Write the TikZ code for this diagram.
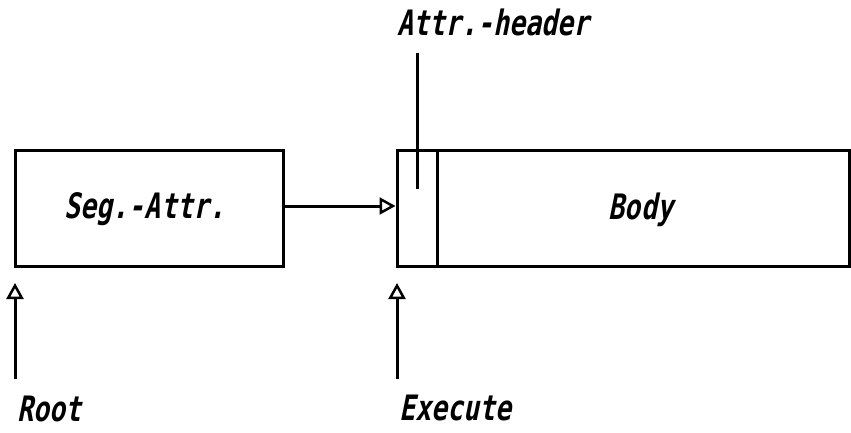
\documentclass[tikz,border=0pt]{standalone}
\usepackage{fontspec}
\newfontfamily\plotfont[FakeStretch=0.76,FakeSlant=0.2]{DejaVu Sans Mono Bold}
\usetikzlibrary{arrows.meta,calc}
\begin{document}
\begin{tikzpicture}[x=1pt,y=-1pt,
  line width=3pt,
  box/.style={draw,rectangle,inner sep=0pt,line width=3pt},
  lbl/.style={inner sep=0pt,font=\plotfont\fontsize{35}{42}\selectfont},
  openarrow/.style={-{Triangle[open,length=16pt,width=17pt,line width=2.5pt]}}]
\useasboundingbox (0,0) rectangle (851,432);
% boxes
\node[box,minimum width=268pt,minimum height=116pt] (seg) at (149,208) {};
\node[box,minimum width=40pt,minimum height=116pt] (hdr) at (417,208) {};
\node[box,minimum width=412pt,minimum height=116pt] (body) at (643,208) {};
% texts
\node[lbl,anchor=base] (segtxt) at (145,218) {Seg.-Attr.};
\node[lbl,anchor=base] (bodytxt) at (641,219) {Body};
\node[lbl,anchor=base west] (root) at (16,421) {Root};
\node[lbl,anchor=base west] (exec) at (398,420) {Execute};
\node[lbl,anchor=base west] (attr) at (396,35) {Attr.-header};
% connectors
\draw[openarrow] (seg.east |- 0,206) -- (hdr.west |- 0,206);
\coordinate (hltop) at (417,53);
\coordinate (hlend) at (417,189);
\draw (hltop) -- (hlend);
\coordinate (rootbase) at (15,379);
\coordinate (roottip) at (15,283);
\draw[openarrow] (rootbase) -- (roottip);
\coordinate (execbase) at (397,379);
\coordinate (exectip) at (397,283);
\draw[openarrow] (execbase) -- (exectip);
\end{tikzpicture}
\end{document}
